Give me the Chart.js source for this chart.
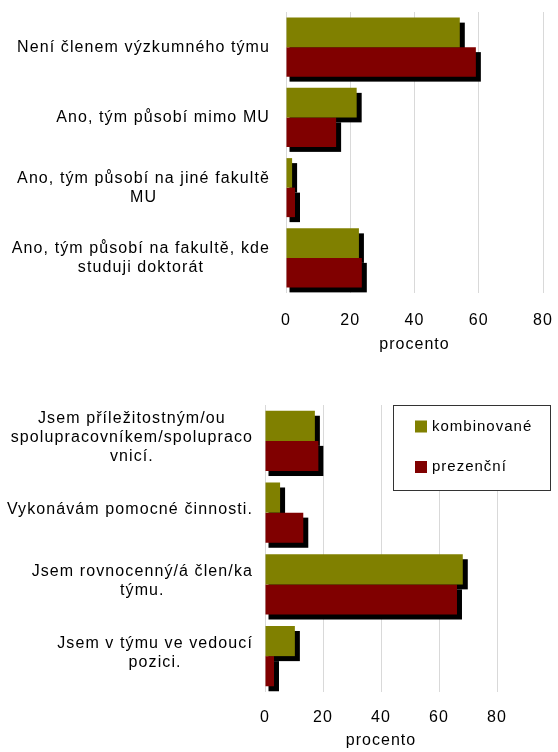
<!DOCTYPE html>
<html>
<head>
<meta charset="utf-8">
<script src="https://cdn.jsdelivr.net/npm/chart.js@4/dist/chart.umd.min.js"></script>
<style>
    body { margin: 0; background: #fff; }
    canvas { position: absolute; left: 0; }
    #teamChart { top: 0; }
    #roleChart { top: 376px; }
</style>
</head>
<body>
<canvas id="teamChart" width="558" height="366"></canvas>
<canvas id="roleChart" width="558" height="376"></canvas>
<script>
// data (percent)
const seriesNames = ['kombinované', 'prezenční'];
const seriesColors = ['#808000', '#800000'];
const xTicks = [0, 20, 40, 60, 80];

const teamCategories = [
    ['Není členem výzkumného týmu'],
    ['Ano, tým působí mimo MU'],
    ['Ano, tým působí na jiné fakultě', 'MU'],
    ['Ano, tým působí na fakultě, kde', 'studuji doktorát']
];
const teamKombinovane = [54.1, 22.0, 1.9, 22.7];
const teamPrezencni = [59.1, 15.6, 2.8, 23.6];

const roleCategories = [
    ['Jsem příležitostným/ou', 'spolupracovníkem/spolupraco', 'vnicí.'],
    ['Vykonávám pomocné činnosti.'],
    ['Jsem rovnocenný/á člen/ka', 'týmu.'],
    ['Jsem v týmu ve vedoucí', 'pozici.']
];
const roleKombinovane = [17.2, 5.2, 68.2, 10.3];
const rolePrezencni = [18.4, 13.2, 66.2, 3.1];

document.addEventListener("DOMContentLoaded", function () {
    const FONT = '"Liberation Sans", Arial, sans-serif';

    // Excel-like spaced text
    const spacing = {
        id: 'spacing',
        beforeDraw(chart) { chart.ctx.letterSpacing = '1px'; }
    };

    // black drop shadow behind every bar
    const barShadow = {
        id: 'barShadow',
        beforeDatasetsDraw(chart) {
            const ctx = chart.ctx;
            ctx.save();
            ctx.fillStyle = '#000';
            chart.data.datasets.forEach((ds, i) => {
                chart.getDatasetMeta(i).data.forEach(bar => {
                    const { x, y, base, height } = bar.getProps(['x', 'y', 'base', 'height'], true);
                    ctx.fillRect(base + 3, y - height / 2 + 5, x - base + 2, height);
                });
            });
            ctx.restore();
        }
    };

    // category labels: block right-aligned to the axis, lines centred inside it
    const sideLabels = {
        id: 'sideLabels',
        afterDraw(chart, args, opts) {
            const ctx = chart.ctx;
            const yScale = chart.scales.y;
            ctx.save();
            ctx.font = '16px ' + FONT;
            ctx.letterSpacing = '1.1px';
            ctx.fillStyle = '#000';
            ctx.textAlign = 'center';
            ctx.textBaseline = 'middle';
            chart.data.labels.forEach((lines, i) => {
                const w = Math.max(...lines.map(t => ctx.measureText(t).width));
                const cx = chart.chartArea.left - opts.gap - w / 2;
                const cy = yScale.getPixelForTick(i) + opts.shift;
                lines.forEach((t, k) => ctx.fillText(t, cx, cy + (k - (lines.length - 1) / 2) * 19));
            });
            ctx.restore();
        }
    };

    // boxed legend lying over the right part of the plot
    const boxLegend = {
        id: 'boxLegend',
        afterDraw(chart, args, opts) {
            if (!opts.show) return;
            const ctx = chart.ctx;
            const bx = 393.5, by = chart.chartArea.top + 0.5, bw = 157, bh = 85;
            ctx.save();
            ctx.fillStyle = '#fff';
            ctx.fillRect(bx, by, bw, bh);
            ctx.strokeStyle = '#333';
            ctx.lineWidth = 1;
            ctx.strokeRect(bx, by, bw, bh);
            ctx.font = '15px ' + FONT;
            ctx.letterSpacing = '1px';
            ctx.textAlign = 'left';
            ctx.textBaseline = 'middle';
            chart.data.datasets.forEach((ds, i) => {
                const cy = by + 21 + i * 40.5;
                ctx.fillStyle = ds.backgroundColor;
                ctx.fillRect(bx + 21.5, cy - 6, 12, 12);
                ctx.fillStyle = '#000';
                ctx.fillText(ds.label, bx + 38.5, cy);
            });
            ctx.restore();
        }
    };

    function makeChart(canvasId, labels, kombi, prez, cfg) {
        const ctx = document.getElementById(canvasId).getContext('2d');
        return new Chart(ctx, {
            type: 'bar',
            data: {
                labels: labels,
                datasets: [
                    { label: seriesNames[0], data: kombi, backgroundColor: seriesColors[0] },
                    { label: seriesNames[1], data: prez, backgroundColor: seriesColors[1] }
                ]
            },
            options: {
                indexAxis: 'y',
                responsive: false,
                animation: false,
                categoryPercentage: 0.84,
                barPercentage: 1,
                layout: { padding: { top: cfg.top, right: cfg.right, left: 0, bottom: 0 } },
                scales: {
                    x: {
                        min: xTicks[0],
                        max: xTicks[xTicks.length - 1],
                        afterBuildTicks: s => { s.ticks = xTicks.map(v => ({ value: v })); },
                        ticks: { color: '#000', font: { family: FONT, size: 16 }, padding: cfg.tickPad },
                        grid: { color: '#d9d9d9', lineWidth: 1, drawTicks: false },
                        border: { display: false },
                        title: {
                            display: true, text: 'procento', color: '#000',
                            font: { family: FONT, size: 16 },
                            padding: { top: 0, bottom: cfg.titlePad }
                        },
                        afterFit: s => {
                            s.height = cfg.axisH;
                            // keep plot edge where the layout padding puts it
                            s.paddingLeft = 0;
                            s.paddingRight = 0;
                        }
                    },
                    y: {
                        ticks: { display: false },
                        grid: { display: false },
                        border: { display: false },
                        afterFit: s => { s.width = cfg.left; }
                    }
                },
                plugins: {
                    legend: { display: false },
                    tooltip: { enabled: false },
                    sideLabels: { gap: cfg.gap, shift: cfg.shift },
                    boxLegend: { show: cfg.legend }
                }
            },
            plugins: [spacing, barShadow, sideLabels, boxLegend]
        });
    }

    makeChart('teamChart', teamCategories, teamKombinovane, teamPrezencni,
        { top: 12, right: 15, left: 286, axisH: 73, tickPad: 18, titlePad: 12, gap: 16, shift: 0, legend: false });
    makeChart('roleChart', roleCategories, roleKombinovane, rolePrezencni,
        { top: 29, right: 61, left: 265, axisH: 60, tickPad: 16, titlePad: 2, gap: 12, shift: -3, legend: true });
});
</script>
</body>
</html>
